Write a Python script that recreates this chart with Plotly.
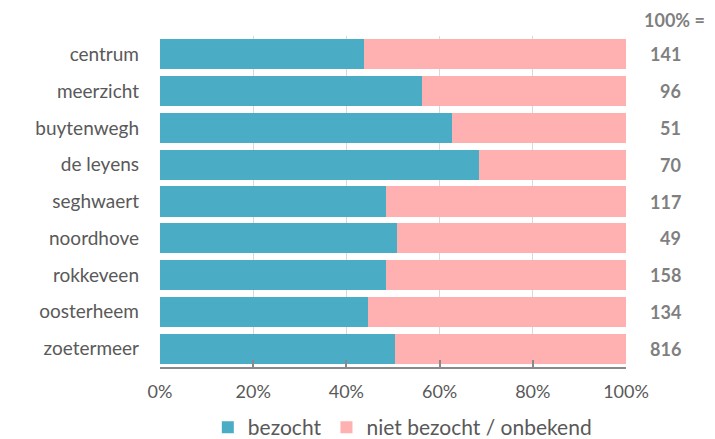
import plotly.graph_objects as go

categories = ["centrum", "meerzicht", "buytenwegh", "de leyens", "seghwaert",
              "noordhove", "rokkeveen", "oosterheem", "zoetermeer"]
bezocht = [43.8, 56.2, 62.6, 68.4, 48.4, 50.8, 48.4, 44.6, 50.5]
niet_bezocht = [round(100 - v, 1) for v in bezocht]
totals = [141, 96, 51, 70, 117, 49, 158, 134, 816]
tick_vals = [0, 20, 40, 60, 80, 100]
tick_text = ["0%", "20%", "40%", "60%", "80%", "100%"]

FONT = "Lato, 'Open Sans', sans-serif"
GREY = "#595959"

fig = go.Figure()
fig.add_trace(go.Bar(y=categories, x=bezocht, orientation="h", name="bezocht",
                     marker=dict(color="#4BACC6", line=dict(width=0))))
fig.add_trace(go.Bar(y=categories, x=niet_bezocht, orientation="h",
                     name="niet bezocht / onbekend",
                     marker=dict(color="#FFB1B1", line=dict(width=0))))

for c, t in zip(categories, totals):
    fig.add_annotation(x=1, xref="paper", y=c, yref="y", text=f"<b>{t}</b>",
                       showarrow=False, xanchor="right", xshift=57,
                       font=dict(family=FONT, size=18, color="#7f7f7f"))
fig.add_annotation(x=1, xref="paper", y=1, yref="paper", text="<b>100% =</b>",
                   showarrow=False, xanchor="left", yanchor="bottom", xshift=16, yshift=3,
                   font=dict(family=FONT, size=18, color="#7f7f7f"))

fig.update_layout(
    barmode="stack", bargap=0.18,
    width=715, height=439,
    margin=dict(l=160, r=89, t=36, b=72, autoexpand=False),
    plot_bgcolor="white", paper_bgcolor="white",
    font=dict(family=FONT, size=17, color=GREY),
    xaxis=dict(range=[0, 100], tickvals=tick_vals, ticktext=tick_text,
               showgrid=True, gridcolor="#d9d9d9", gridwidth=1,
               showline=True, linecolor="#898989", linewidth=1.5,
               ticks="inside", ticklen=7, tickcolor="#898989", tickwidth=1.5,
               ticklabelstandoff=8,
               tickfont=dict(size=18, color=GREY), zeroline=False, fixedrange=True),
    yaxis=dict(autorange="reversed", showgrid=False, ticks="", ticklen=0,
               ticklabelstandoff=20,
               tickfont=dict(size=19, color=GREY)),
    legend=dict(orientation="h", x=0.52, xanchor="center", xref="paper",
                y=0.026, yanchor="middle", yref="container",
                font=dict(size=21, color=GREY), traceorder="normal"),
    showlegend=True,
)
fig.write_html("out.html", config={"displayModeBar": False},
               post_script="document.body.style.margin='0';")
